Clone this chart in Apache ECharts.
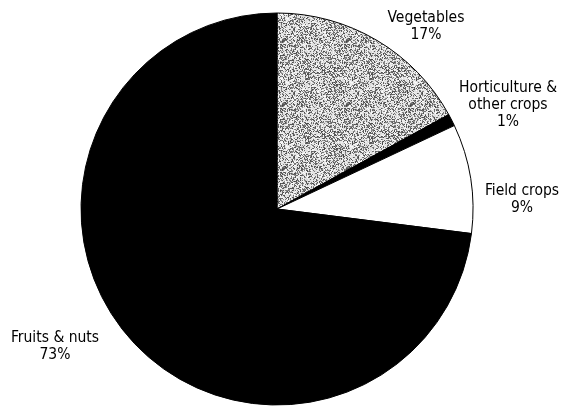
<!DOCTYPE html>
<html>
<head>
<meta charset="utf-8">
<script src="https://cdn.jsdelivr.net/npm/echarts@6/dist/echarts.min.js"></script>
<style>
html,body{margin:0;padding:0;background:#fff;}
#chart{width:561px;height:407px;}
</style>
</head>
<body>
<div id="chart"></div>
<script>
// Data
var categories = ['Vegetables', 'Horticulture &\nother crops', 'Field crops', 'Fruits & nuts'];
var shares = [17, 1, 9, 73];

// Style helpers (not data)
function stipple() {
  var c = document.createElement('canvas');
  c.width = 64; c.height = 64;
  var ctx = c.getContext('2d');
  var img = ctx.createImageData(64, 64);
  var s = 12345;
  for (var i = 0; i < 64 * 64; i++) {
    s = (s * 1103515245 + 12345) & 0x7fffffff;
    var v = (s >> 8) % 100;
    var g = v < 40 ? 70 + (v * 2) : 215 + (v % 40);
    img.data[i * 4] = g; img.data[i * 4 + 1] = g; img.data[i * 4 + 2] = g; img.data[i * 4 + 3] = 255;
  }
  ctx.putImageData(img, 0, 0);
  return c;
}
var fills = [{image: stipple(), repeat: 'repeat'}, '#000000', '#ffffff', '#000000'];
var labelAnchors = [[426, 26], [508, 105], [522, 199], [55, 346]];

var chart = echarts.init(document.getElementById('chart'), null, {renderer: 'canvas'});
chart.setOption({
  animation: false,
  backgroundColor: '#ffffff',
  series: [{
    type: 'pie',
    center: [277, 209],
    radius: 196,
    startAngle: 90,
    clockwise: true,
    avoidLabelOverlap: false,
    data: categories.map(function (n, i) {
      return {name: n, value: shares[i], itemStyle: {color: fills[i]}};
    }),
    itemStyle: {borderColor: '#000', borderWidth: 1},
    label: {
      show: true,
      position: 'outside',
      formatter: function (p) { return p.name + '\n' + p.value + '%'; },
      fontFamily: "'Liberation Sans Narrow', 'DejaVu Sans Condensed', sans-serif",
      fontSize: 15.5,
      lineHeight: 17,
      color: '#000',
      align: 'center'
    },
    labelLine: {show: false},
    labelLayout: function (params) {
      var a = labelAnchors[params.dataIndex];
      return {x: a[0], y: a[1], align: 'center', verticalAlign: 'middle'};
    },
    emphasis: {disabled: true}
  }]
});
</script>
</body>
</html>
